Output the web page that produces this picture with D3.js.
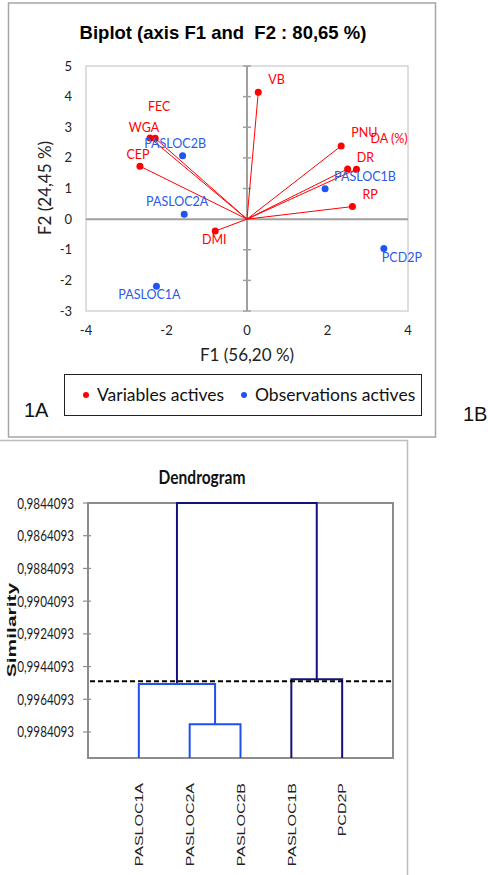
<!DOCTYPE html>
<html>
<head>
<meta charset="utf-8">
<script src="https://cdn.jsdelivr.net/npm/d3@7"></script>
<style>
  html, body { margin: 0; padding: 0; background: #fff; }
  svg { display: block; }
  text { white-space: pre; }
</style>
</head>
<body>
<svg id="chart" width="488" height="875"></svg>
<script>
// ---------------- DATA ----------------
// Biplot: active variables (red)
const varNames = ['VB', 'FEC', 'WGA', 'CEP', 'DMI', 'PNU', 'DA (%)', 'DR', 'RP'];
const varF1    = [0.28, -2.28, -2.41, -2.66, -0.79, 2.34, 2.72, 2.50, 2.62];
const varF2    = [4.14,  2.64,  2.65,  1.73, -0.39, 2.39, 1.63, 1.64, 0.41];
// Biplot: active observations (blue)
const obsNames = ['PASLOC2B', 'PASLOC2A', 'PASLOC1A', 'PASLOC1B', 'PCD2P'];
const obsF1    = [-1.60, -1.56, -2.25, 1.94, 3.40];
const obsF2    = [ 2.07,  0.16, -2.19, 0.99, -0.96];
const xTicks = [-4, -2, 0, 2, 4];
const yTicks = [-3, -2, -1, 0, 1, 2, 3, 4, 5];
const biplotTitle = 'Biplot (axis F1 and  F2 : 80,65 %)';
const xTitle = 'F1 (56,20 %)';
const yTitle = 'F2 (24,45 %)';
const legendLabels = ['Variables actives', 'Observations actives'];

// Dendrogram
const leaves = ['PASLOC1A', 'PASLOC2A', 'PASLOC2B', 'PASLOC1B', 'PCD2P'];
const clusterIds = ['C1', 'C2', 'C3', 'C4'];
const clusterChildren = [['PASLOC2A', 'PASLOC2B'], ['PASLOC1A', 'C1'], ['PASLOC1B', 'PCD2P'], ['C2', 'C3']];
const clusterSimilarity = [0.99794, 0.99548, 0.99519, 0.9844093];
const truncationLevel = 0.99531;
const simTicks = [0.9844093, 0.9864093, 0.9884093, 0.9904093, 0.9924093, 0.9944093, 0.9964093, 0.9984093];
const simTickLabels = ['0,9844093', '0,9864093', '0,9884093', '0,9904093', '0,9924093', '0,9944093', '0,9964093', '0,9984093'];
const simDomain = [0.9844093, 1.0];

// ---------------- STYLE / LAYOUT ----------------
const RED = '#ff0000', BLUE = '#1f55f0', NAVY = '#12127e', BRIGHT = '#1e50ee';
const labelFont = 'Lato, "Noto Sans", sans-serif';
const arialFont = '"Liberation Sans", Arial, sans-serif';
// label placement [dx, dy, anchor] relative to point
const varLabelPos = {
  'VB': [10, -8, 'start'], 'FEC': [4, -27.5, 'middle'], 'WGA': [-6, -6, 'middle'],
  'CEP': [-2, -7.5, 'middle'], 'DMI': [-1, 13, 'middle'], 'PNU': [10, -8.5, 'start'],
  'DA (%)': [14, -26.5, 'start'], 'DR': [9, -7, 'start'], 'RP': [10, -8, 'start']
};
const obsLabelPos = {
  'PASLOC2B': [-7.5, -8, 'middle'], 'PASLOC2A': [-7, -8.5, 'middle'], 'PASLOC1A': [-7, 12.5, 'middle'],
  'PASLOC1B': [9, -8, 'start'], 'PCD2P': [-2, 13, 'start']
};
const clusterColor = { C1: BRIGHT, C2: BRIGHT, C3: NAVY, C4: NAVY };

const svg = d3.select('#chart');

// ---------------- BIPLOT ----------------
// outer frame
svg.append('rect').attr('x', 8.5).attr('y', 3).attr('width', 427).attr('height', 434)
  .attr('fill', 'none').attr('stroke', '#a6a6a6').attr('stroke-width', 1.5);

const px = { l: 86, r: 408, t: 66, b: 311 };
const x = d3.scaleLinear().domain([-4, 4]).range([px.l, px.r]);
const y = d3.scaleLinear().domain([-3, 5]).range([px.b, px.t]);

svg.append('text').attr('x', 223).attr('y', 38.5).attr('text-anchor', 'middle')
  .attr('font-family', arialFont).attr('font-weight', 'bold').attr('font-size', 18.5)
  .attr('fill', '#000').text(biplotTitle);

// plot area border
svg.append('rect').attr('x', px.l).attr('y', px.t).attr('width', px.r - px.l).attr('height', px.b - px.t)
  .attr('fill', 'none').attr('stroke', '#d4d4d4').attr('stroke-width', 1.5);

// zero lines
svg.append('line').attr('x1', px.l).attr('x2', px.r).attr('y1', y(0)).attr('y2', y(0))
  .attr('stroke', '#a0a0a0').attr('stroke-width', 2);
svg.append('line').attr('x1', x(0)).attr('x2', x(0)).attr('y1', px.t).attr('y2', px.b)
  .attr('stroke', '#a0a0a0').attr('stroke-width', 2);
// ticks on vertical zero axis
svg.append('g').selectAll('line').data(yTicks.filter(d => d !== 0)).join('line')
  .attr('x1', x(0) - 4).attr('x2', x(0) + 4).attr('y1', d => y(d)).attr('y2', d => y(d))
  .attr('stroke', '#a0a0a0').attr('stroke-width', 1.5);

// tick labels
svg.append('g').selectAll('text').data(yTicks).join('text')
  .attr('x', 72).attr('y', d => y(d) + 4.5).attr('text-anchor', 'end')
  .attr('font-family', labelFont).attr('font-size', 13).attr('fill', '#222')
  .text(d => d);
svg.append('g').selectAll('text').data(xTicks).join('text')
  .attr('x', d => x(d)).attr('y', 334.5).attr('text-anchor', 'middle')
  .attr('font-family', labelFont).attr('font-size', 13).attr('fill', '#222')
  .text(d => d);

// axis titles
svg.append('text').attr('x', 247).attr('y', 361).attr('text-anchor', 'middle')
  .attr('font-family', labelFont).attr('font-size', 17).attr('fill', '#222').text(xTitle);
svg.append('text').attr('transform', 'translate(51,188) rotate(-90)').attr('text-anchor', 'middle')
  .attr('font-family', labelFont).attr('font-size', 17).attr('fill', '#222').text(yTitle);

// variable vectors
const vars = varNames.map((n, i) => ({ name: n, f1: varF1[i], f2: varF2[i] }));
const obs = obsNames.map((n, i) => ({ name: n, f1: obsF1[i], f2: obsF2[i] }));

svg.append('g').selectAll('line').data(vars).join('line')
  .attr('x1', x(0)).attr('y1', y(0)).attr('x2', d => x(d.f1)).attr('y2', d => y(d.f2))
  .attr('stroke', RED).attr('stroke-width', 1);
svg.append('g').selectAll('circle').data(vars).join('circle')
  .attr('cx', d => x(d.f1)).attr('cy', d => y(d.f2)).attr('r', 3.5).attr('fill', RED);
svg.append('g').selectAll('text').data(vars).join('text')
  .attr('x', d => x(d.f1) + varLabelPos[d.name][0]).attr('y', d => y(d.f2) + varLabelPos[d.name][1])
  .attr('text-anchor', d => varLabelPos[d.name][2])
  .attr('font-family', labelFont).attr('font-size', 12.5).attr('fill', RED).text(d => d.name);

svg.append('g').selectAll('circle').data(obs).join('circle')
  .attr('cx', d => x(d.f1)).attr('cy', d => y(d.f2)).attr('r', 3.5).attr('fill', BLUE);
svg.append('g').selectAll('text').data(obs).join('text')
  .attr('x', d => x(d.f1) + obsLabelPos[d.name][0]).attr('y', d => y(d.f2) + obsLabelPos[d.name][1])
  .attr('text-anchor', d => obsLabelPos[d.name][2])
  .attr('font-family', labelFont).attr('font-size', 12.5).attr('fill', '#2a5ae8').text(d => d.name);

// legend
svg.append('rect').attr('x', 64.5).attr('y', 374.5).attr('width', 357).attr('height', 41)
  .attr('fill', 'none').attr('stroke', '#222').attr('stroke-width', 1);
const legX = [86, 244];
const legCol = [RED, BLUE];
const leg = svg.append('g').selectAll('g').data(legendLabels).join('g')
  .attr('transform', (d, i) => `translate(${legX[i]},395)`);
leg.append('circle').attr('r', 3).attr('fill', (d, i) => legCol[i]);
leg.append('text').attr('x', 11).attr('y', 5.5).attr('font-family', labelFont)
  .attr('font-size', 17.5).attr('fill', '#111').text(d => d);

// panel labels
svg.append('text').attr('x', 24).attr('y', 416.5).attr('font-family', arialFont)
  .attr('font-size', 20).attr('fill', '#111').text('1A');
svg.append('text').attr('x', 463).attr('y', 420.5).attr('font-family', arialFont)
  .attr('font-size', 20).attr('fill', '#111').text('1B');

// ---------------- DENDROGRAM ----------------
svg.append('path').attr('d', 'M0,440.5 H407.5 V875')
  .attr('fill', 'none').attr('stroke', '#bdbdbd').attr('stroke-width', 1.5);

const dp = { l: 88, r: 393, t: 503, b: 758 };
const dx = d3.scalePoint().domain(leaves).range([dp.l, dp.r]).padding(1);
const dy = d3.scaleLinear().domain(simDomain).range([dp.t, dp.b]);

// title
svg.append('g').attr('transform', 'translate(202,484) scale(0.84,1)')
  .append('text').attr('text-anchor', 'middle').attr('font-family', labelFont)
  .attr('font-weight', 'bold').attr('font-size', 18.5).attr('fill', '#111').text('Dendrogram');

// plot border
svg.append('rect').attr('x', dp.l).attr('y', dp.t).attr('width', dp.r - dp.l).attr('height', dp.b - dp.t)
  .attr('fill', 'none').attr('stroke', '#8c8c8c').attr('stroke-width', 2);

// y ticks
svg.append('g').selectAll('line').data(simTicks).join('line')
  .attr('x1', dp.l - 5).attr('x2', dp.l + 3).attr('y1', d => dy(d)).attr('y2', d => dy(d))
  .attr('stroke', '#8c8c8c').attr('stroke-width', 1.2);
svg.append('g').selectAll('g').data(simTicks).join('g')
  .attr('transform', d => `translate(74,${dy(d) + 5.5}) scale(0.73,1)`)
  .append('text').attr('text-anchor', 'end').attr('font-family', labelFont)
  .attr('font-size', 16).attr('fill', '#222').text((d, i) => simTickLabels[i]);

// axis title
svg.append('text').attr('transform', 'translate(15.5,630) scale(0.6,1) rotate(-90)')
  .attr('text-anchor', 'middle').attr('font-family', arialFont).attr('font-weight', 'bold')
  .attr('font-size', 21).attr('fill', '#111').text('Similarity');

// hierarchy
const childMap = {};
clusterIds.forEach((id, i) => { childMap[id] = { children: clusterChildren[i], sim: clusterSimilarity[i] }; });
function build(id) {
  if (childMap[id]) return { name: id, sim: childMap[id].sim, children: childMap[id].children.map(build) };
  return { name: id, sim: simDomain[1] };
}
const root = d3.hierarchy(build(clusterIds[clusterIds.length - 1]));
root.eachAfter(n => {
  n.px = n.children ? d3.mean(n.children, c => c.px) : dx(n.data.name);
  n.py = dy(n.data.sim);
});

const linkG = svg.append('g').attr('fill', 'none').attr('stroke-width', 2);
root.descendants().filter(n => n.children).forEach(n => {
  const [a, b] = n.children;
  linkG.append('path')
    .attr('d', `M${a.px},${a.py} V${n.py} H${b.px} V${b.py}`)
    .attr('stroke', clusterColor[n.data.name]);
});

// truncation line
svg.append('line').attr('x1', dp.l + 2).attr('x2', dp.r).attr('y1', dy(truncationLevel)).attr('y2', dy(truncationLevel))
  .attr('stroke', '#000').attr('stroke-width', 2).attr('stroke-dasharray', '5,3');

// leaf labels
svg.append('g').selectAll('g').data(leaves).join('g')
  .attr('transform', d => `translate(${dx(d) + 4.3},783) scale(0.74,1) rotate(-90)`)
  .append('text').attr('text-anchor', 'end').attr('font-family', arialFont)
  .attr('font-size', 16).attr('fill', '#222').text(d => d);
</script>
</body>
</html>
